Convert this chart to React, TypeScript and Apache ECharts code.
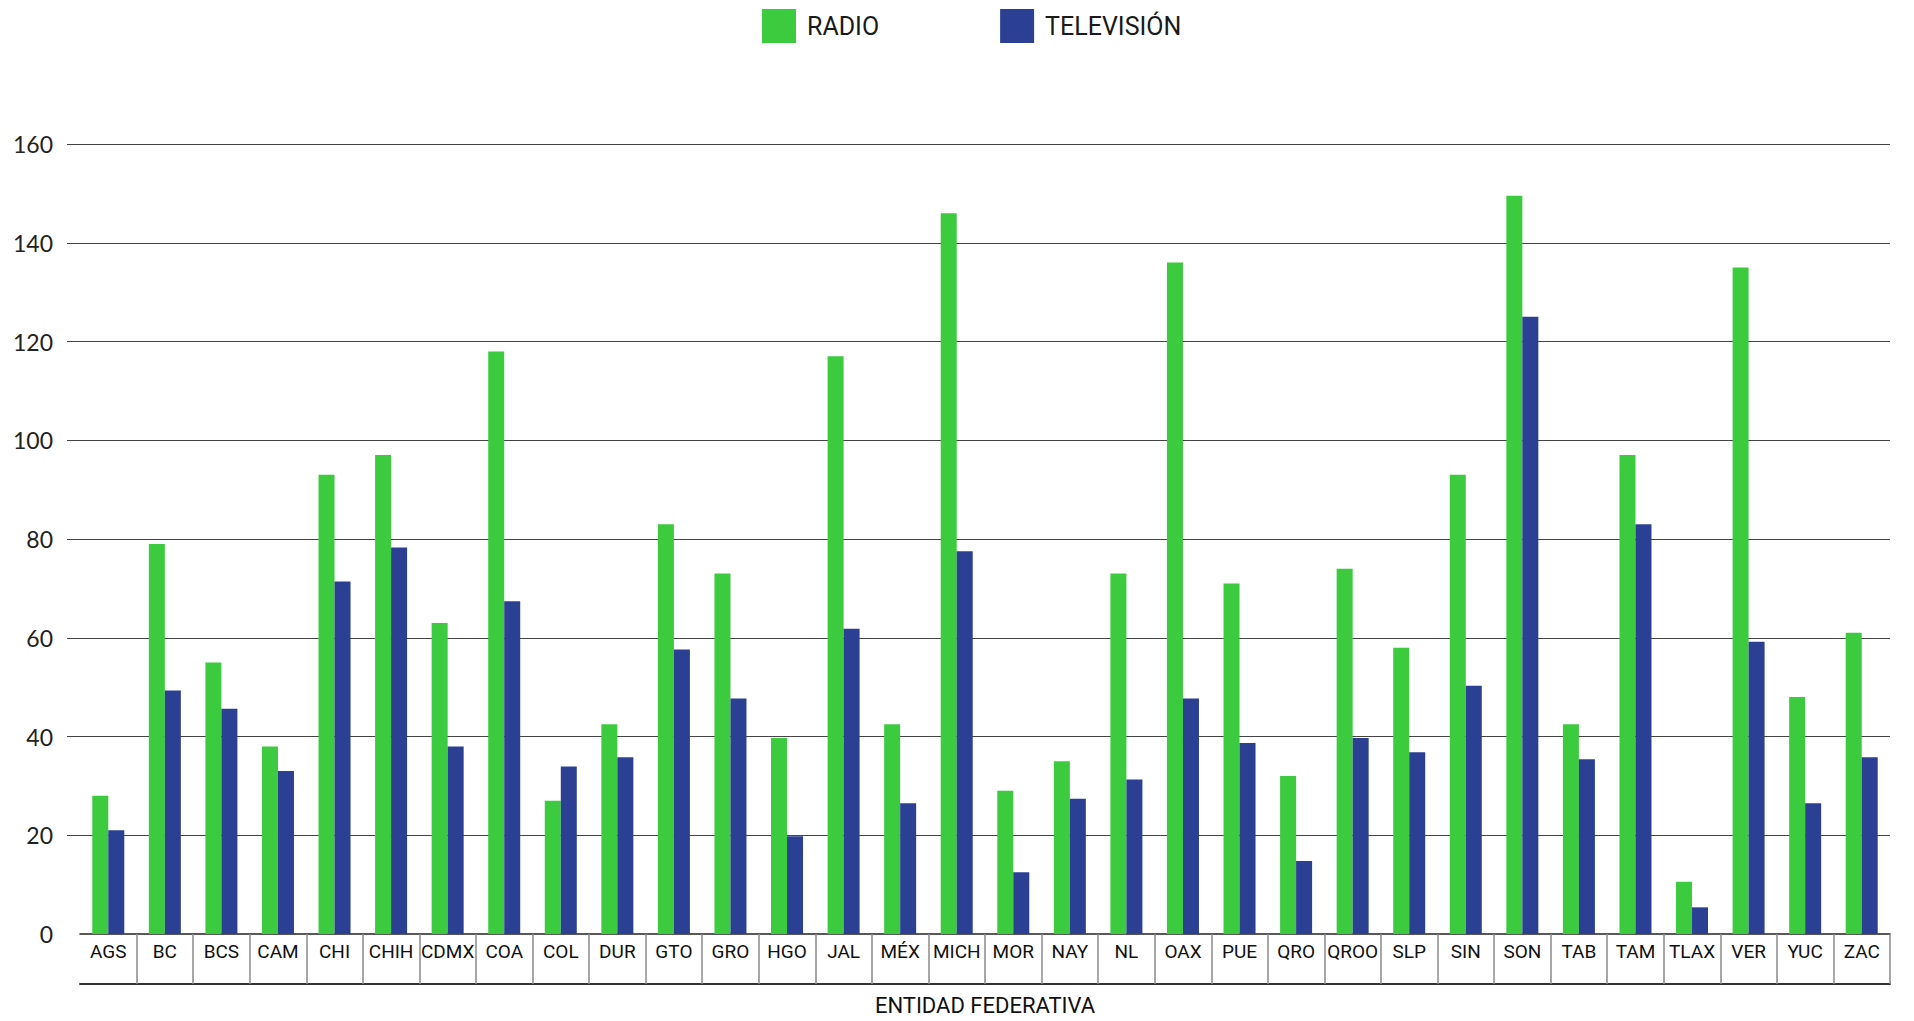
import React, { useEffect, useRef } from "react";
import * as echarts from "echarts";

const categories = [
  "AGS", "BC", "BCS", "CAM", "CHI", "CHIH", "CDMX", "COA", "COL", "DUR", "GTO",
  "GRO", "HGO", "JAL", "MÉX", "MICH", "MOR", "NAY", "NL", "OAX", "PUE", "QRO",
  "QROO", "SLP", "SIN", "SON", "TAB", "TAM", "TLAX", "VER", "YUC", "ZAC",
];

const radio = [
  28, 79, 55, 38, 93, 97, 63, 118, 27, 42.5, 83,
  73, 39.7, 117, 42.5, 146, 29, 35, 73, 136, 71, 32,
  74, 58, 93, 149.5, 42.5, 97, 10.6, 135, 48, 61,
];

const television = [
  21, 49.3, 45.6, 33, 71.4, 78.3, 38, 67.4, 33.9, 35.8, 57.6,
  47.7, 19.8, 61.8, 26.5, 77.5, 12.5, 27.4, 31.3, 47.7, 38.7, 14.8,
  39.7, 36.8, 50.3, 125, 35.4, 83, 5.4, 59.2, 26.5, 35.8,
];

const seriesNames = ["RADIO", "TELEVISIÓN"];
const yMin = 0;
const yMax = 160;
const yStep = 20;
const xTitle = "ENTIDAD FEDERATIVA";

export default function App() {
  const ref = useRef<HTMLDivElement>(null);

  useEffect(() => {
    if (!ref.current) return;
    const chart = echarts.init(ref.current, null, { renderer: "svg" });
    const gridColors = ["transparent"];
    for (let i = 0; i < 8; i++) gridColors.push("#444");

    chart.setOption({
      animation: false,
      backgroundColor: "#ffffff",
      legend: {
        data: seriesNames,
        left: 757,
        top: 4,
        icon: "rect",
        itemWidth: 34,
        itemHeight: 34,
        itemGap: 121,
        textStyle: {
          fontFamily: "Roboto",
          fontSize: 25,
          color: "#1a1a1a",
          padding: [0, 0, 0, 6],
        },
      },
      grid: [
        { left: 67, right: 24, top: 144, bottom: 87 },
        { left: 80, right: 24, top: 144, bottom: 87 },
      ],
      xAxis: [
        { gridIndex: 0, type: "category", data: categories, show: false },
        {
          gridIndex: 1,
          type: "category",
          data: categories,
          boundaryGap: true,
          axisLine: { show: true, lineStyle: { color: "#222", width: 1.5 } },
          axisTick: {
            show: true,
            interval: (i: number) => i !== 0,
            alignWithLabel: false,
            inside: false,
            length: 50,
            lineStyle: { color: "#8a8a8a", width: 1.5 },
          },
          axisLabel: {
            interval: 0,
            margin: 8,
            fontFamily: "Roboto",
            fontSize: 19,
            color: "#111",
          },
        },
        {
          gridIndex: 1,
          type: "category",
          data: categories,
          position: "bottom",
          offset: 50,
          axisLine: { show: true, lineStyle: { color: "#333", width: 2 } },
          axisTick: { show: false },
          axisLabel: { show: false },
          name: xTitle,
          nameLocation: "middle",
          nameGap: 10,
          nameTextStyle: {
            fontFamily: "Roboto",
            fontSize: 22,
            color: "#111",
          },
        },
      ],
      yAxis: [
        {
          gridIndex: 0,
          type: "value",
          min: yMin,
          max: yMax,
          interval: yStep,
          axisLine: { show: false },
          axisTick: { show: false },
          axisLabel: {
            margin: 14,
            fontFamily: "Lato",
            fontSize: 23,
            color: "#222",
          },
          splitLine: { lineStyle: { color: gridColors, width: 1 } },
        },
        {
          gridIndex: 1,
          type: "value",
          min: yMin,
          max: yMax,
          interval: yStep,
          show: false,
        },
      ],
      series: [
        {
          name: seriesNames[0],
          type: "bar",
          xAxisIndex: 1,
          yAxisIndex: 1,
          data: radio,
          barWidth: 16,
          barGap: "0%",
          itemStyle: { color: "#3CCB3F" },
        },
        {
          name: seriesNames[1],
          type: "bar",
          xAxisIndex: 1,
          yAxisIndex: 1,
          data: television,
          barWidth: 16,
          barGap: "0%",
          itemStyle: { color: "#2B3F93" },
        },
      ],
    });

    return () => chart.dispose();
  }, []);

  return (
    <div
      ref={ref}
      style={{ position: "absolute", left: 0, top: 0, width: 1914, height: 1021 }}
    />
  );
}
